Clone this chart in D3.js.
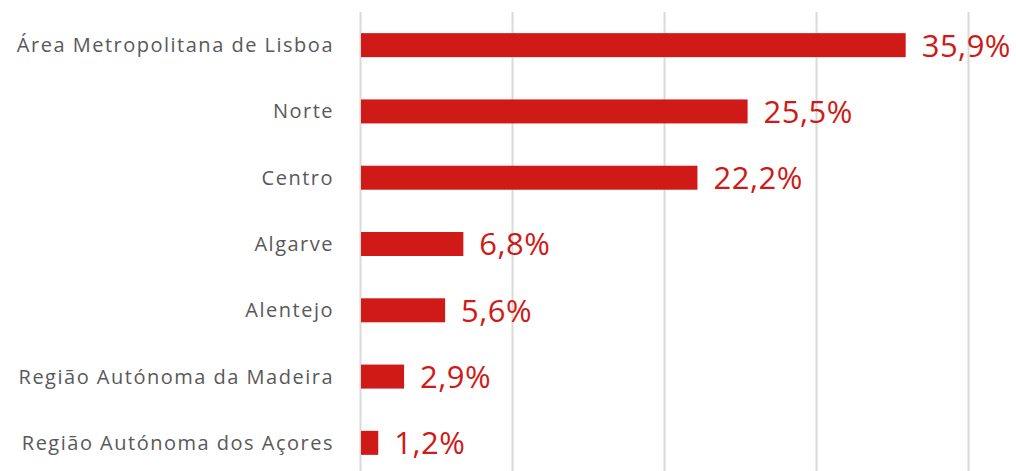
<!DOCTYPE html>
<html><head><meta charset="utf-8">
<script src="https://cdn.jsdelivr.net/npm/d3@7"></script>
<style>body{margin:0;background:#fff}svg{display:block}</style>
</head><body>
<svg id="c" width="1016" height="471"></svg>
<script>
const categories = ["Área Metropolitana de Lisboa","Norte","Centro","Algarve","Alentejo","Região Autónoma da Madeira","Região Autónoma dos Açores"];
const values = [35.9, 25.5, 22.2, 6.8, 5.6, 2.9, 1.2];
const valueLabels = ["35,9%","25,5%","22,2%","6,8%","5,6%","2,9%","1,2%"];
const xTicks = [0, 10, 20, 30, 40];

const svg = d3.select("#c");
const x = d3.scaleLinear().domain([0, 40]).range([360, 968]);
const y = d3.scaleBand().domain(categories).range([12, 476]).paddingInner(0.638).paddingOuter(0.319);

svg.append("g").selectAll("line").data(xTicks).join("line")
  .attr("x1", d => x(d) + 0.5).attr("x2", d => x(d) + 0.5)
  .attr("y1", 12).attr("y2", 471)
  .attr("stroke", "#d9d9d9").attr("stroke-width", 2);

svg.append("g").selectAll("rect").data(categories).join("rect")
  .attr("x", x(0) + 1).attr("y", d => y(d))
  .attr("width", (d, i) => x(values[i]) - x(0) - 1)
  .attr("height", y.bandwidth())
  .attr("fill", "#d01a17");

svg.append("g").selectAll("text").data(categories).join("text")
  .attr("x", 334).attr("y", d => y(d) + y.bandwidth() / 2)
  .attr("dy", "0.35em").attr("text-anchor", "end")
  .attr("font-family", "'Open Sans', sans-serif").attr("font-size", 20)
  .attr("letter-spacing", 1.5)
  .attr("fill", "#595959").text(d => d);

svg.append("g").selectAll("text").data(categories).join("text")
  .attr("x", (d, i) => x(values[i]) + 16).attr("y", d => y(d) + y.bandwidth() / 2)
  .attr("dy", "0.37em")
  .attr("font-family", "'Open Sans', sans-serif").attr("font-size", 31)
  .attr("letter-spacing", 0.5)
  .attr("fill", "#d01a17").text((d, i) => valueLabels[i]);
</script>
</body></html>
